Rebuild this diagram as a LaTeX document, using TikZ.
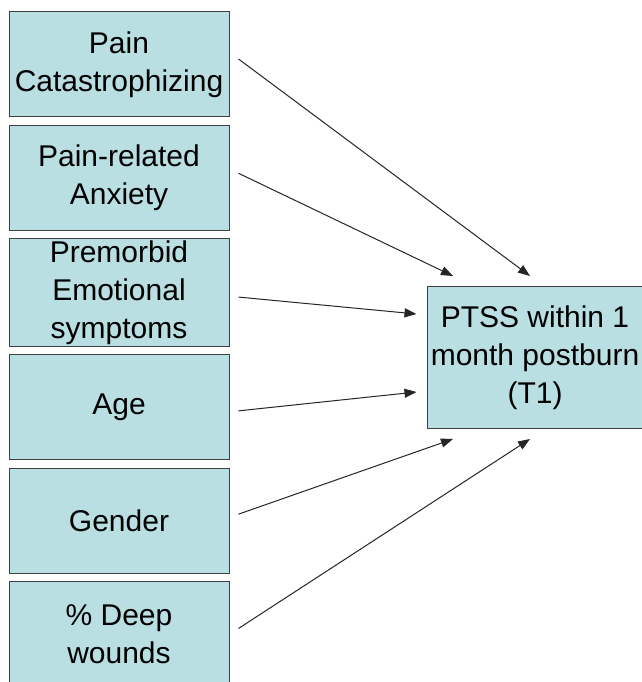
\documentclass[tikz,border=0pt]{standalone}
\usepackage{fontspec}
\setmainfont{Liberation Sans}
\usepackage{tikz}
\usetikzlibrary{arrows.meta,positioning}
\definecolor{boxfill}{RGB}{185,223,227}
\tikzset{
  boxfont/.style ={font=\fontsize{30}{38}\selectfont, align=center},
  box/.style ={draw=black!75, line width=1pt, fill=boxfill, inner sep=2pt, boxfont,
               minimum width=220pt, minimum height=105pt},
  arr/.style ={-{Triangle[length=12pt,width=9pt]}, line width=1pt, black!85},
}
\begin{document}
\begin{tikzpicture}[x=1pt,y=1pt,node distance=7.3pt]
  \useasboundingbox (0,0) rectangle (641,682);
  \fill[white] (0,0) rectangle (641,682);
  % left column
  \node[box] (cat) at (119,617.5) {Pain\\Catastrophizing};
  \node[box, below=of cat] (anx) {Pain-related\\Anxiety};
  \node[box, below=of anx] (emo) {Premorbid\\Emotional\\symptoms};
  \node[box, below=of emo] (age) {Age};
  \node[box, below=of age] (gen) {Gender};
  \node[box, below=of gen] (wound) {\% Deep\\wounds};
  % outcome
  \node[box, minimum width=226pt, minimum height=142pt,
        label={[boxfont, xshift=-5pt]center:PTSS within 1\\month postburn\\(T1)}] (ptss) at (540,324.5) {};
  % arrow targets
  \coordinate (t1) at ([xshift=-10pt,yshift=10pt]ptss.north);
  \coordinate (t2) at ([xshift=-87pt,yshift=10pt]ptss.north);
  \coordinate (t3) at ([xshift=-10pt,yshift=43.5pt]ptss.west);
  \coordinate (t4) at ([xshift=-10pt,yshift=-34.5pt]ptss.west);
  \coordinate (t5) at ([xshift=-87pt,yshift=-10pt]ptss.south);
  \coordinate (t6) at ([xshift=-10pt,yshift=-10pt]ptss.south);
  \draw[arr] ([xshift=9pt,yshift=5.5pt]cat.east) -- (t1);
  \draw[arr] ([xshift=9pt,yshift=4.5pt]anx.east) -- (t2);
  \draw[arr] ([xshift=9pt,yshift=-4.5pt]emo.east) -- (t3);
  \draw[arr] ([xshift=9pt,yshift=-3.5pt]age.east) -- (t4);
  \draw[arr] ([xshift=9pt,yshift=6.5pt]gen.east) -- (t5);
  \draw[arr] ([xshift=9pt,yshift=5.5pt]wound.east) -- (t6);
\end{tikzpicture}
\end{document}
